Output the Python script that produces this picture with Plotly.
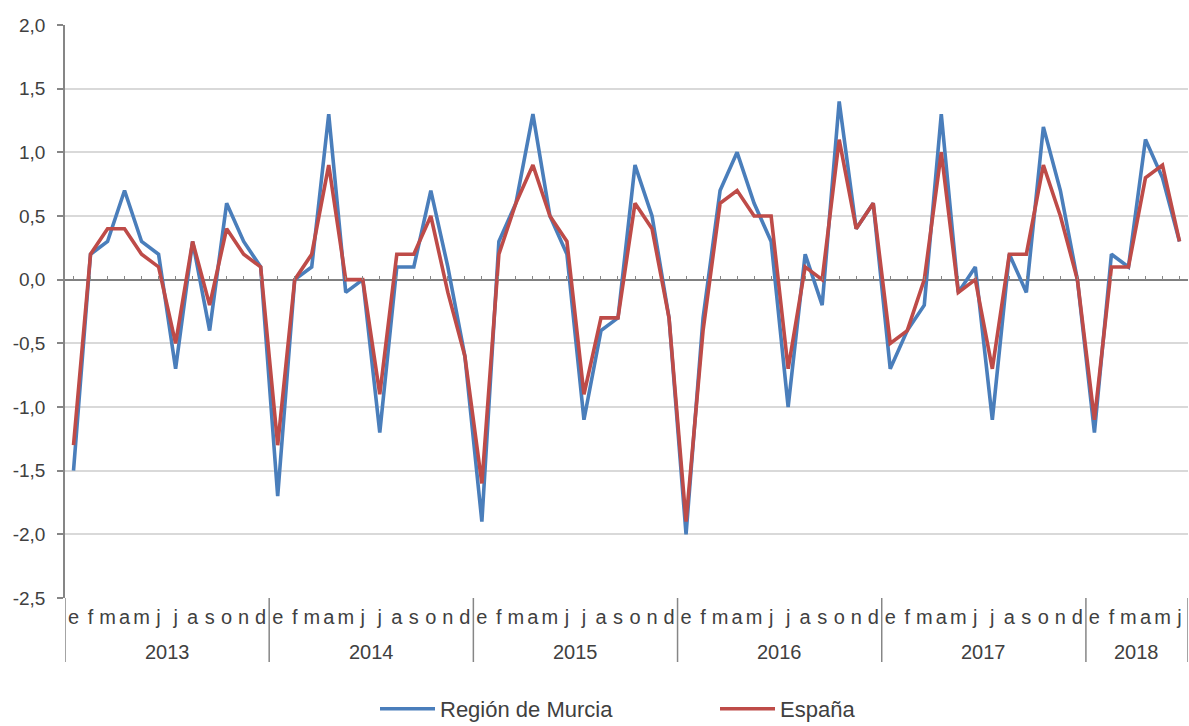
import plotly.graph_objects as go

# Monthly variation (%), January 2013 - June 2018
years = [2013, 2014, 2015, 2016, 2017, 2018]
months_per_year = [12, 12, 12, 12, 12, 6]
month_letters = ["e", "f", "m", "a", "m", "j", "j", "a", "s", "o", "n", "d"]

murcia = [
    -1.5, 0.2, 0.3, 0.7, 0.3, 0.2, -0.7, 0.3, -0.4, 0.6, 0.3, 0.1,
    -1.7, 0.0, 0.1, 1.3, -0.1, 0.0, -1.2, 0.1, 0.1, 0.7, 0.1, -0.6,
    -1.9, 0.3, 0.6, 1.3, 0.5, 0.2, -1.1, -0.4, -0.3, 0.9, 0.5, -0.3,
    -2.0, -0.3, 0.7, 1.0, 0.6, 0.3, -1.0, 0.2, -0.2, 1.4, 0.4, 0.6,
    -0.7, -0.4, -0.2, 1.3, -0.1, 0.1, -1.1, 0.2, -0.1, 1.2, 0.7, 0.0,
    -1.2, 0.2, 0.1, 1.1, 0.8, 0.3,
]
espana = [
    -1.3, 0.2, 0.4, 0.4, 0.2, 0.1, -0.5, 0.3, -0.2, 0.4, 0.2, 0.1,
    -1.3, 0.0, 0.2, 0.9, 0.0, 0.0, -0.9, 0.2, 0.2, 0.5, -0.1, -0.6,
    -1.6, 0.2, 0.6, 0.9, 0.5, 0.3, -0.9, -0.3, -0.3, 0.6, 0.4, -0.3,
    -1.9, -0.4, 0.6, 0.7, 0.5, 0.5, -0.7, 0.1, 0.0, 1.1, 0.4, 0.6,
    -0.5, -0.4, 0.0, 1.0, -0.1, 0.0, -0.7, 0.2, 0.2, 0.9, 0.5, 0.0,
    -1.1, 0.1, 0.1, 0.8, 0.9, 0.3,
]

y_ticks = [2.0, 1.5, 1.0, 0.5, 0.0, -0.5, -1.0, -1.5, -2.0, -2.5]
y_tick_text = [f"{v:.1f}".replace(".", ",") for v in y_ticks]

month_text = []
for n in months_per_year:
    month_text += month_letters[:n]
idx = list(range(len(month_text)))

BLUE = "#4A7EBB"
RED = "#BE4B48"
AXIS = "#868686"
GRID = "#D9D9D9"
TEXT = "#404040"
FONT = "Liberation Sans, Arial, sans-serif"

W, H = 1189, 726
M_L, M_R, M_T, M_B = 65, 1, 25, 128
plot_h = H - M_T - M_B
plot_bottom = H - M_B

x_range = [-0.5, len(idx) - 0.5]
y_range = [-2.5, 2.0]

fig = go.Figure()
fig.add_trace(go.Scatter(
    x=idx, y=murcia, mode="lines", name="Región de Murcia",
    line=dict(color=BLUE, width=3.6), xaxis="x", yaxis="y",
))
fig.add_trace(go.Scatter(
    x=idx, y=espana, mode="lines", name="España",
    line=dict(color=RED, width=3.6), xaxis="x2", yaxis="y",
))

# Year boundaries and year labels under the month letters
bounds = [-0.5]
for n in months_per_year:
    bounds.append(bounds[-1] + n)

shapes = []
annotations = []
sep_bottom = -(662 - plot_bottom) / plot_h
for b in bounds:
    shapes.append(dict(type="line", xref="x", yref="paper",
                       x0=b, x1=b, y0=0, y1=sep_bottom,
                       line=dict(color=AXIS, width=1.5)))
year_y = -(652 - plot_bottom) / plot_h
for i, yr in enumerate(years):
    annotations.append(dict(
        x=(bounds[i] + bounds[i + 1]) / 2, y=year_y, xref="x", yref="paper",
        text=str(yr), showarrow=False, yanchor="middle",
        font=dict(family=FONT, size=20, color=TEXT)))

zero_pos = (0 - y_range[0]) / (y_range[1] - y_range[0])

fig.update_layout(
    width=W, height=H,
    margin=dict(l=M_L, r=M_R, t=M_T, b=M_B, autoexpand=False),
    paper_bgcolor="white", plot_bgcolor="white",
    showlegend=True,
    legend=dict(
        orientation="h", x=(375 - M_L) / (W - M_L - M_R), xanchor="left",
        yref="container", y=1 - 709 / H, yanchor="middle",
        entrywidth=270, entrywidthmode="pixels", itemwidth=55,
        font=dict(family=FONT, size=22, color=TEXT),
        bgcolor="rgba(0,0,0,0)",
    ),
    xaxis=dict(
        range=x_range, tickmode="array", tickvals=idx, ticktext=month_text,
        ticks="", showgrid=False, zeroline=False, showline=False,
        tickfont=dict(family=FONT, size=20, color=TEXT),
        ticklabelstandoff=5,
    ),
    xaxis2=dict(
        range=x_range, overlaying="x", anchor="free", position=zero_pos,
        side="bottom", tickmode="array", tickvals=idx,
        ticks="inside", ticklen=4, tickwidth=1, tickcolor=AXIS,
        showticklabels=False, showgrid=False, zeroline=False, showline=False,
    ),
    yaxis=dict(
        range=y_range, tickmode="array", tickvals=y_ticks, ticktext=y_tick_text,
        ticks="outside", ticklen=6, tickwidth=1.5, tickcolor=AXIS,
        showline=True, linecolor=AXIS, linewidth=1.5,
        showgrid=True, gridcolor=GRID, gridwidth=1.5,
        zeroline=True, zerolinecolor="#808080", zerolinewidth=1.5,
        tickfont=dict(family=FONT, size=19, color=TEXT),
        ticklabelstandoff=8,
    ),
    shapes=shapes,
    annotations=annotations,
)

fig.write_html("out.html")
